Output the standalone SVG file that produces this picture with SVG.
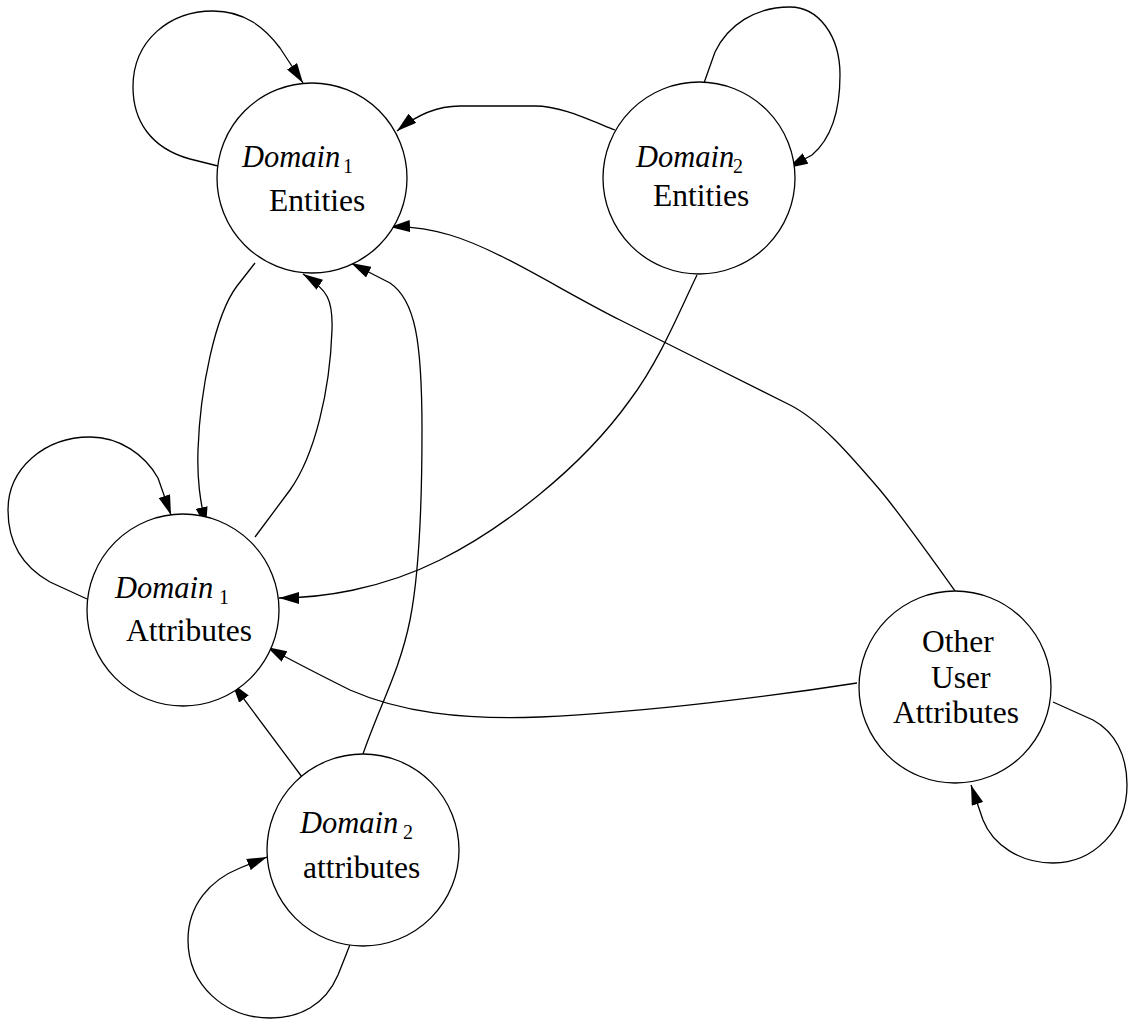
<svg xmlns="http://www.w3.org/2000/svg" width="1128" height="1021" viewBox="0 0 1128 1021">
<style>
.node circle{fill:#fff;stroke:#000;stroke-width:1.3}
text{font-family:'Liberation Serif','Times New Roman','DejaVu Serif',serif;fill:#000}
.t{font-size:31.5px}
.i{font-size:30.5px;font-style:italic}
.s{font-size:20px}
.edges path{fill:none;stroke:#000;stroke-width:1.3;marker-end:url(#arr)}
</style>
<defs>
<marker id="arr" markerUnits="userSpaceOnUse" markerWidth="20" markerHeight="12" refX="20" refY="6" orient="auto">
<path d="M0,0 L20,6 L0,12 z" fill="#000"/>
</marker>
</defs>
<rect width="1128" height="1021" fill="#fff"/>
<g class="edges">
<path d="M218,166 L190,159 C150,148 133,120 133,87 C133,40 170,11 213,11 C245,11 265,28 280,48 L303,83"/>
<path d="M615,130 C585,118 560,106 535,106 L460,106 C440,106 420,112 397,131"/>
<path d="M704,83 L715,52 C728,25 755,7 790,7 C818,7 840,35 840,75 C840,110 832,138 812,155 L788,168"/>
<path d="M970,612 C940,570 905,520 880,490 C850,455 820,420 790,405 C730,375 680,350 620,320 C560,290 500,250 450,235 C430,229 410,226 390,227"/>
<path d="M363,754 C380,705 400,670 410,620 C420,570 422,500 422,430 C422,340 415,300 390,283 L351,263"/>
<path d="M255,263 L237,286 C215,315 200,390 198,450 C197,480 200,500 206,527"/>
<path d="M255,537 L290,490 C315,455 330,390 332,330 C333,300 328,290 303,274"/>
<path d="M87,599 L50,582 C25,568 8,545 8,510 C8,468 45,437 90,437 C120,437 145,455 158,478 L171,515"/>
<path d="M697,275 C680,310 660,360 630,400 C580,470 500,530 440,560 C380,590 320,598 279,598"/>
<path d="M857,683 C780,695 650,712 540,717 C460,720 400,712 350,690 C330,680 300,665 267,647"/>
<path d="M302,777 L232,683"/>
<path d="M351,942 C346,955 342,965 338,975 C325,1005 300,1018 270,1018 C225,1018 188,985 188,940 C188,905 210,880 240,868 L267,857"/>
<path d="M1053,702 L1093,720 C1115,732 1127,755 1127,785 C1127,830 1093,863 1053,863 C1020,863 993,845 983,820 L971,785"/>
</g>
<g id="d1e" class="node">
<circle cx="312" cy="178" r="95"/>
<text class="i" x="242" y="167" font-family="Liberation Serif, serif">Domain</text><text class="s" x="343" y="173" font-family="Liberation Serif, serif">1</text>
<text class="t" x="269" y="211" font-family="Liberation Serif, serif">Entities</text>
</g>
<g id="d2e" class="node">
<circle cx="699" cy="178" r="96"/>
<text class="i" x="636" y="167" font-family="Liberation Serif, serif">Domain</text><text class="s" x="733" y="173" font-family="Liberation Serif, serif">2</text>
<text class="t" x="653" y="206" font-family="Liberation Serif, serif">Entities</text>
</g>
<g id="d1a" class="node">
<circle cx="183" cy="610" r="96"/>
<text class="i" x="115" y="598" font-family="Liberation Serif, serif">Domain</text><text class="s" x="219" y="604" font-family="Liberation Serif, serif">1</text>
<text class="t" x="126" y="641" font-family="Liberation Serif, serif">Attributes</text>
</g>
<g id="d2a" class="node">
<circle cx="363" cy="850" r="96"/>
<text class="i" x="300" y="833" font-family="Liberation Serif, serif">Domain</text><text class="s" x="403" y="839" font-family="Liberation Serif, serif">2</text>
<text class="t" x="303" y="878" font-family="Liberation Serif, serif">attributes</text>
</g>
<g id="oua" class="node">
<circle cx="955" cy="687" r="96"/>
<text class="t" x="922" y="652" font-family="Liberation Serif, serif">Other</text>
<text class="t" x="931" y="688" font-family="Liberation Serif, serif">User</text>
<text class="t" x="893" y="723" font-family="Liberation Serif, serif">Attributes</text>
</g>
</svg>
